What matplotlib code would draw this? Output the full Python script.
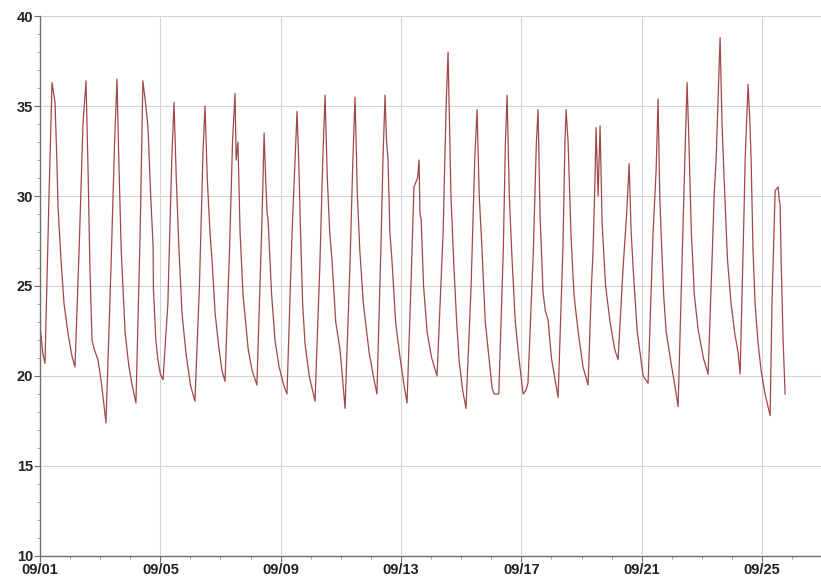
import numpy as np
import pandas as pd
import matplotlib
matplotlib.use("Agg")
import matplotlib.pyplot as plt
import matplotlib.dates as mdates

# key points: day of September (fractional) and value
day = [1.000, 1.100, 1.166, 1.300, 1.400, 1.500, 1.560, 1.600, 1.700, 1.800, 1.930, 2.050, 2.164,
       2.300, 2.430, 2.530, 2.600, 2.660, 2.730, 2.800, 2.930, 3.050, 3.194,
       3.360, 3.480, 3.560, 3.620, 3.700, 3.830, 3.950, 4.050, 4.190,
       4.330, 4.420, 4.520, 4.590, 4.680, 4.760, 4.770, 4.850, 4.920, 5.000, 5.090,
       5.250, 5.380, 5.455, 5.530, 5.620, 5.720, 5.850, 6.000, 6.150,
       6.300, 6.420, 6.485, 6.560, 6.650, 6.720, 6.820, 6.950, 7.050, 7.150,
       7.300, 7.400, 7.483, 7.520, 7.580, 7.650, 7.750, 7.920, 8.050, 8.210,
       8.330, 8.380, 8.450, 8.500, 8.550, 8.580, 8.700, 8.810, 8.950, 9.100, 9.210,
       9.380, 9.544, 9.600, 9.660, 9.730, 9.810, 9.950, 10.142,
       10.300, 10.400, 10.475, 10.550, 10.630, 10.707, 10.830, 10.970, 11.050, 11.140,
       11.300, 11.400, 11.472, 11.550, 11.630, 11.750, 11.940, 12.080, 12.200,
       12.330, 12.400, 12.469, 12.520, 12.570, 12.630, 12.700, 12.820, 12.970, 13.100, 13.200,
       13.330, 13.430, 13.550, 13.600, 13.630, 13.670, 13.750, 13.870, 14.020, 14.198,
       14.400, 14.500, 14.564, 14.600, 14.660, 14.760, 14.850, 14.930, 15.050, 15.160,
       15.330, 15.450, 15.528, 15.600, 15.694, 15.800, 15.930, 16.030, 16.100, 16.250,
       16.400, 16.470, 16.526, 16.600, 16.693, 16.800, 16.925, 17.060, 17.150, 17.220,
       17.400, 17.500, 17.556, 17.620, 17.722, 17.800, 17.889, 18.000, 18.221,
       18.380, 18.450, 18.487, 18.553, 18.653, 18.750, 18.886, 19.050, 19.218,
       19.330, 19.384, 19.450, 19.484, 19.551, 19.617, 19.684, 19.800, 19.949, 20.100, 20.215,
       20.381, 20.500, 20.582, 20.650, 20.715, 20.850, 21.047, 21.213,
       21.379, 21.479, 21.545, 21.600, 21.645, 21.730, 21.811, 21.977, 22.100, 22.210,
       22.350, 22.450, 22.509, 22.570, 22.650, 22.750, 22.875, 23.050, 23.207,
       23.350, 23.407, 23.473, 23.550, 23.606, 23.670, 23.739, 23.850, 23.972, 24.100, 24.205, 24.271,
       24.400, 24.438, 24.537, 24.600, 24.637, 24.700, 24.770, 24.870, 24.970, 25.100, 25.269,
       25.330, 25.436, 25.535, 25.570, 25.602, 25.635, 25.700, 25.767]
temp = [22.8, 21.2, 20.7, 30.0, 36.3, 35.2, 32.0, 29.4, 26.4, 24.0, 22.4, 21.2, 20.5,
        27.0, 34.0, 36.4, 31.3, 26.0, 22.0, 21.5, 20.9, 19.5, 17.4,
        26.0, 33.0, 36.5, 32.0, 27.0, 22.4, 20.6, 19.6, 18.5,
        28.0, 36.4, 35.0, 33.8, 30.0, 27.2, 24.9, 22.0, 20.9, 20.1, 19.8,
        24.0, 32.0, 35.2, 31.0, 27.0, 23.5, 21.3, 19.5, 18.6,
        25.0, 32.5, 35.0, 31.0, 28.0, 26.4, 23.5, 21.5, 20.3, 19.7,
        27.0, 33.0, 35.7, 32.0, 33.0, 28.0, 24.5, 21.5, 20.3, 19.5,
        26.0, 28.7, 33.5, 31.0, 29.0, 28.7, 24.5, 22.0, 20.5, 19.5, 19.0,
        28.0, 34.7, 32.0, 28.0, 24.0, 21.8, 20.0, 18.6,
        26.0, 32.0, 35.6, 31.0, 28.0, 26.4, 23.0, 21.5, 20.0, 18.2,
        26.0, 32.0, 35.5, 30.0, 27.0, 24.0, 21.3, 20.0, 19.0,
        27.0, 32.0, 35.6, 33.0, 32.0, 28.0, 26.4, 23.0, 21.0, 19.5, 18.5,
        25.0, 30.5, 31.0, 32.0, 29.0, 28.7, 25.0, 22.4, 21.0, 20.0,
        28.0, 35.0, 38.0, 35.0, 30.0, 26.0, 23.0, 20.9, 19.2, 18.2,
        25.0, 32.0, 34.8, 30.0, 27.0, 23.0, 20.9, 19.3, 19.0, 19.0,
        27.0, 33.0, 35.6, 30.0, 26.4, 23.0, 20.9, 19.0, 19.2, 19.6,
        27.0, 33.0, 34.8, 29.0, 24.6, 23.6, 23.1, 21.0, 18.8,
        27.0, 33.0, 34.8, 33.0, 27.7, 24.5, 22.5, 20.5, 19.5,
        25.0, 27.0, 31.0, 33.8, 30.0, 33.9, 28.5, 25.0, 23.0, 21.5, 20.9,
        26.0, 29.0, 31.8, 28.0, 26.0, 22.5, 20.0, 19.6,
        28.0, 31.4, 35.4, 30.0, 28.0, 24.5, 22.5, 20.7, 19.5, 18.3,
        27.0, 33.0, 36.3, 33.0, 28.0, 24.5, 22.6, 21.0, 20.1,
        27.0, 30.0, 32.0, 36.0, 38.8, 34.0, 31.0, 26.5, 24.0, 22.3, 21.3, 20.1,
        29.0, 32.0, 36.2, 34.0, 32.0, 27.0, 24.0, 21.8, 20.3, 19.0, 17.8,
        24.0, 30.3, 30.5, 29.8, 29.5, 26.4, 22.0, 19.0]

start = pd.Timestamp("2023-09-01")
times = [start + pd.Timedelta(days=d - 1) for d in day]

fig = plt.figure(figsize=(8.21, 5.80), dpi=100)
ax = fig.add_axes([0.0487, 0.0414, 0.9513, 0.931])

ax.plot(times, temp, color="#8b1a1a", linewidth=0.9, alpha=0.8)

ax.set_ylim(10, 40)
ax.set_xlim(start, start + pd.Timedelta(days=25.96))
ax.set_yticks(np.arange(10, 41, 5))
ax.yaxis.set_minor_locator(matplotlib.ticker.MultipleLocator(1))
ax.xaxis.set_major_locator(mdates.DayLocator(bymonthday=[1, 5, 9, 13, 17, 21, 25]))
ax.xaxis.set_minor_locator(mdates.DayLocator())
ax.xaxis.set_major_formatter(mdates.DateFormatter("%m/%d"))

ax.grid(True, which="major", color="#d4d4d4", linewidth=0.8)
ax.set_axisbelow(True)
for s in ["top", "right"]:
    ax.spines[s].set_visible(False)
for s in ["left", "bottom"]:
    ax.spines[s].set_color("#707070")
    ax.spines[s].set_linewidth(1.0)

ax.tick_params(which="major", length=4, color="#707070", pad=1)
ax.tick_params(which="minor", length=2, color="#909090")
for lab in ax.get_xticklabels() + ax.get_yticklabels():
    lab.set_fontfamily("Liberation Sans")
    lab.set_fontweight("bold")
    lab.set_fontsize(10.5)
    lab.set_color("#222222")

fig.savefig("out.png", dpi=100)
